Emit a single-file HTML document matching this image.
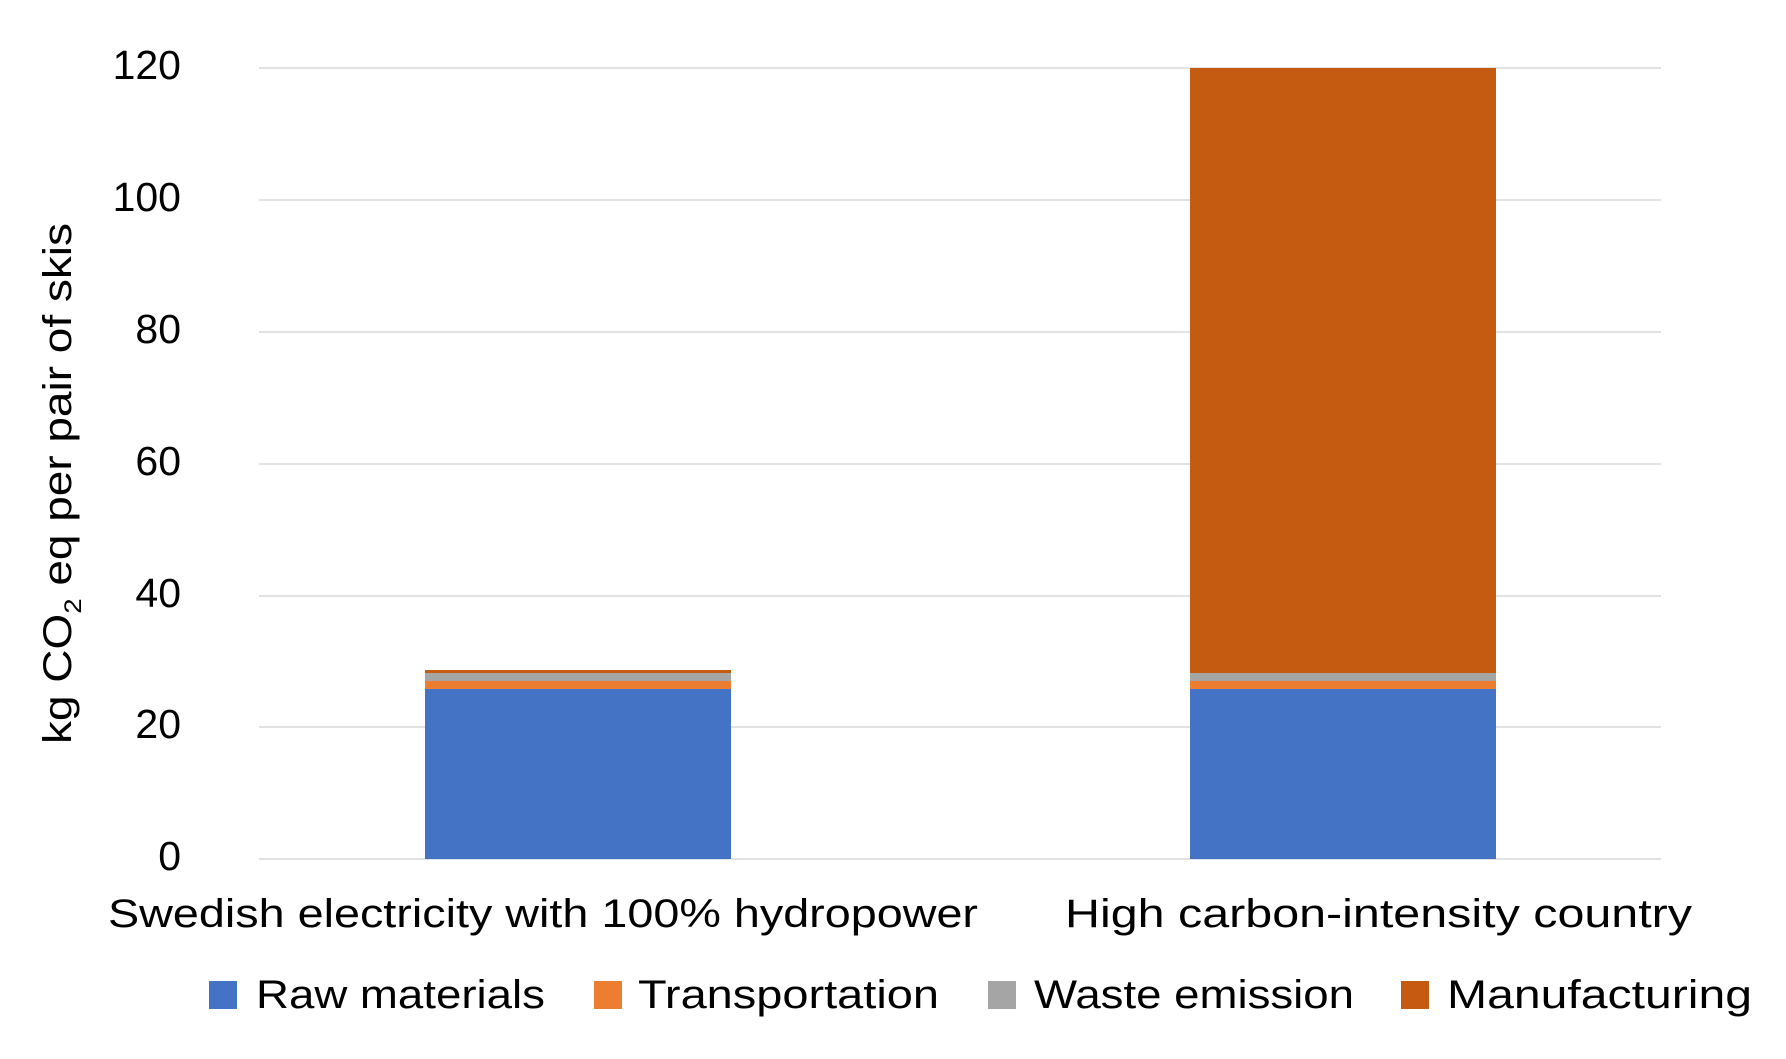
<!DOCTYPE html>
<html><head><meta charset="utf-8"><style>html,body{margin:0;padding:0;background:#fff}svg{display:block}</style></head>
<body>
<svg width="1786" height="1059" viewBox="0 0 1786 1059" xmlns="http://www.w3.org/2000/svg" font-family="Liberation Sans, sans-serif" fill="#000">
<g stroke="#d9d9d9" stroke-width="1.5">
<line x1="259" y1="68" x2="1661" y2="68"/>
<line x1="259" y1="200" x2="1661" y2="200"/>
<line x1="259" y1="332" x2="1661" y2="332"/>
<line x1="259" y1="464" x2="1661" y2="464"/>
<line x1="259" y1="596" x2="1661" y2="596"/>
<line x1="259" y1="727" x2="1661" y2="727"/>
<line x1="259" y1="859" x2="1661" y2="859"/>
</g>
<g font-size="41" text-anchor="end">
<text x="181" y="79">120</text>
<text x="181" y="211">100</text>
<text x="181" y="343">80</text>
<text x="181" y="475">60</text>
<text x="181" y="607">40</text>
<text x="181" y="738">20</text>
<text x="181" y="870">0</text>
</g>
<rect x="425" y="689" width="306" height="170" fill="#4472c4"/>
<rect x="425" y="681" width="306" height="8" fill="#ed7d31"/>
<rect x="425" y="673" width="306" height="8" fill="#a5a5a5"/>
<rect x="425" y="670" width="306" height="3" fill="#c55a11"/>
<rect x="1190" y="689" width="306" height="170" fill="#4472c4"/>
<rect x="1190" y="681" width="306" height="8" fill="#ed7d31"/>
<rect x="1190" y="673" width="306" height="8" fill="#a5a5a5"/>
<rect x="1190" y="68" width="306" height="605" fill="#c55a11"/>
<g font-size="40">
<text x="108" y="927" textLength="870" lengthAdjust="spacingAndGlyphs">Swedish electricity with 100% hydropower</text>
<text x="1065" y="927" textLength="627" lengthAdjust="spacingAndGlyphs">High carbon-intensity country</text>
</g>
<text transform="translate(71,744) rotate(-90)" font-size="40" textLength="521" lengthAdjust="spacingAndGlyphs">kg CO<tspan font-size="24" dy="10">2</tspan><tspan dy="-10"> eq per pair of skis</tspan></text>
<g font-size="40">
<rect x="209" y="981" width="28" height="28" fill="#4472c4"/>
<text x="256" y="1008" textLength="289" lengthAdjust="spacingAndGlyphs">Raw materials</text>
<rect x="594" y="981" width="28" height="28" fill="#ed7d31"/>
<text x="638" y="1008" textLength="301" lengthAdjust="spacingAndGlyphs">Transportation</text>
<rect x="988" y="981" width="28" height="28" fill="#a5a5a5"/>
<text x="1034" y="1008" textLength="320" lengthAdjust="spacingAndGlyphs">Waste emission</text>
<rect x="1401" y="981" width="28" height="28" fill="#c55a11"/>
<text x="1447" y="1008" textLength="305" lengthAdjust="spacingAndGlyphs">Manufacturing</text>
</g>
</svg>
</body></html>
